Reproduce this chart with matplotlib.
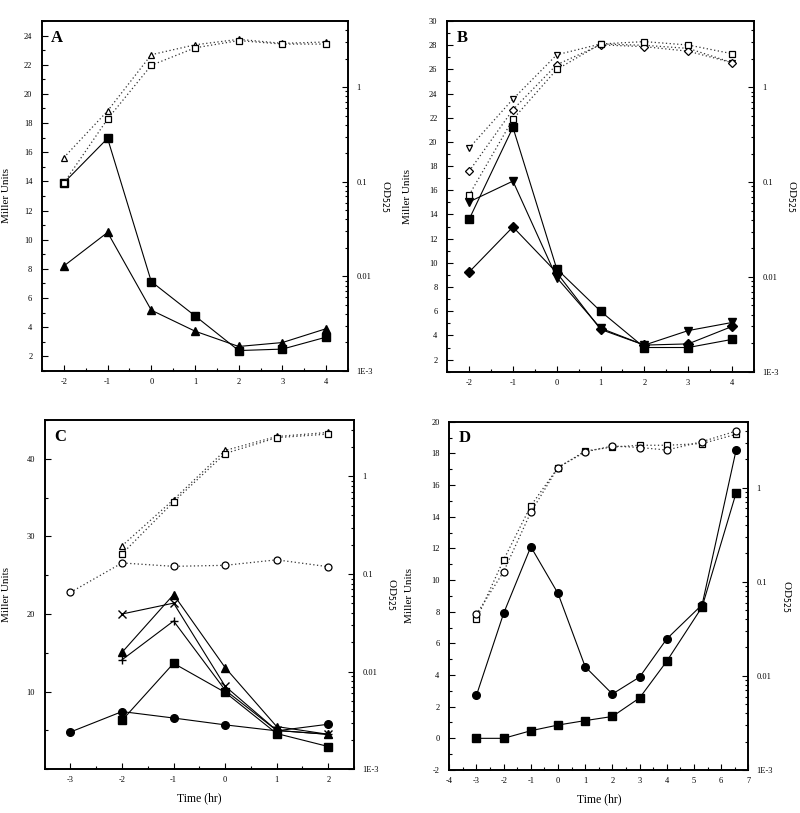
import numpy as np
from matplotlib import pyplot as plt
from matplotlib.ticker import FixedLocator, MultipleLocator, LogLocator, FuncFormatter, NullFormatter

plt.rcParams['font.family'] = ['Liberation Serif', 'DejaVu Serif']
plt.rcParams['axes.unicode_minus'] = False

# ---- panel A ----
a_t = [-2, -1, 0, 1, 2, 3, 4]
a_sq_mu = [13.9, 16.95, 7.13, 4.78, 2.4, 2.5, 3.32]
a_tri_mu = [8.2, 10.5, 5.17, 3.73, 2.68, 2.95, 3.9]
a_tri_od = [0.18, 0.56, 2.2, 2.8, 3.2, 2.9, 3.0]
a_sq_od = [0.097, 0.46, 1.7, 2.6, 3.1, 2.85, 2.85]

# ---- panel B ----
b_t = [-2, -1, 0, 1, 2, 3, 4]
b_sq_mu = [13.6, 21.2, 9.5, 6.0, 3.0, 3.0, 3.67]
b_vtri_mu = [15.04, 16.76, 8.78, 4.6, 3.2, 4.4, 5.07]
b_dia_mu = [9.24, 12.97, 9.19, 4.5, 3.2, 3.3, 4.74]
b_vtri_od = [0.228, 0.75, 2.2, 2.86, 2.77, 2.57, 1.82]
b_dia_od = [0.13, 0.58, 1.73, 2.8, 2.68, 2.4, 1.82]
b_sq_od = [0.073, 0.46, 1.54, 2.86, 3.03, 2.79, 2.26]

# ---- panel C ----
c_t = [-3, -2, -1, 0, 1, 2]
c_t2 = [-2, -1, 0, 1, 2]
c_tri_mu = [15.06, 22.5, 13.1, 5.5, 4.5]
c_x_mu = [20.0, 21.4, 10.7, 5.0, 4.5]
c_plus_mu = [14.1, 19.1, 10.2, 5.0, 4.5]
c_sq_mu = [6.3, 13.65, 9.9, 4.6, 2.93]
c_ci_mu = [4.8, 7.43, 6.6, 5.72, 4.95, 5.8]
c_tri_od = [0.195, 0.58, 1.85, 2.57, 2.83]
c_sq_od = [0.161, 0.55, 1.72, 2.5, 2.72]
c_ci_od = [0.065, 0.130, 0.12, 0.123, 0.14, 0.119]

# ---- panel D ----
d_t = [-3, -2, -1, 0, 1, 2, 3, 4, 5.3, 6.55]
d_ci_mu = [2.72, 7.9, 12.1, 9.15, 4.52, 2.8, 3.87, 6.28, 8.44, 18.2]
d_sq_mu = [0.0, 0.0, 0.48, 0.84, 1.12, 1.38, 2.55, 4.87, 8.3, 15.5]
d_ci_od = [0.045, 0.128, 0.547, 1.63, 2.39, 2.76, 2.66, 2.5, 3.07, 3.98]
d_sq_od = [0.040, 0.171, 0.64, 1.63, 2.44, 2.69, 2.81, 2.81, 2.93, 3.67]

fig = plt.figure(figsize=(8, 8.13), dpi=100)

SOLID = dict(color='black', linewidth=0.8, markersize=5.5)
DOT = dict(color='0.2', linewidth=0.9, linestyle=(0, (1, 2)), markersize=5,
           markerfacecolor='white', markeredgecolor='black', markeredgewidth=0.9)


def od_fmt(v, pos):
    labels = {1: '1', 0.1: '0.1', 0.01: '0.01', 0.001: '1E-3'}
    for k, s in labels.items():
        if abs(v - k) / k < 1e-6:
            return s
    return ''


def setup(rect, letter, xlim, ylim, ymaj, ymin, xmaj, xmin, od_top, lab_x, xlabel=False):
    ax = fig.add_axes(rect)
    ax.set_xlim(*xlim)
    ax.set_ylim(*ylim)
    ax.yaxis.set_major_locator(FixedLocator(ymaj))
    ax.yaxis.set_minor_locator(MultipleLocator(ymin))
    ax.xaxis.set_major_locator(FixedLocator(xmaj))
    ax.xaxis.set_minor_locator(MultipleLocator(xmin))
    ax.tick_params(which='both', direction='in', labelsize=6, width=0.8)
    ax.tick_params(which='major', length=4, pad=7)
    ax.tick_params(which='minor', length=2)
    ax.tick_params(axis='x', pad=5)
    for s in ax.spines.values():
        s.set_linewidth(1.2)
    ax.set_ylabel('Miller Units', fontsize=8)
    ax.yaxis.set_label_coords(lab_x, 0.5)
    if xlabel:
        ax.set_xlabel('Time (hr)', fontsize=8.5, labelpad=6)
    ax.text(0.03, 0.975, letter, transform=ax.transAxes, fontsize=12,
            fontweight='bold', va='top', ha='left')
    ax2 = ax.twinx()
    ax2.set_yscale('log')
    ax2.set_ylim(1e-3, od_top)
    ax2.yaxis.set_major_locator(FixedLocator([1e-3, 1e-2, 1e-1, 1]))
    ax2.yaxis.set_minor_locator(LogLocator(base=10, subs=np.arange(2, 10)))
    ax2.yaxis.set_major_formatter(FuncFormatter(od_fmt))
    ax2.yaxis.set_minor_formatter(NullFormatter())
    ax2.tick_params(which='both', direction='in', labelsize=6, width=0.8)
    ax2.tick_params(which='major', length=4, pad=6)
    ax2.tick_params(which='minor', length=2)
    ax2.set_ylabel('OD$_{525}$', fontsize=8, rotation=270, labelpad=14)
    for s in ax2.spines.values():
        s.set_linewidth(1.2)
    return ax, ax2


# A
ax, ax2 = setup([0.0525, 0.5437, 0.3825, 0.4305], 'A', (-2.5, 4.5), (1, 25),
                list(range(2, 25, 2)), 1, list(range(-2, 5)), 0.5, 5, -0.1)
ax.plot(a_t, a_sq_mu, marker='s', **SOLID)
ax.plot(a_t, a_tri_mu, marker='^', **SOLID)
ax2.plot(a_t, a_tri_od, marker='^', **DOT)
ax2.plot(a_t, a_sq_od, marker='s', **DOT)

# B
ax, ax2 = setup([0.559, 0.5428, 0.3834, 0.4314], 'B', (-2.5, 4.5), (1, 30),
                list(range(2, 31, 2)), 1, list(range(-2, 5)), 0.5, 5, -0.115)
ax.plot(b_t, b_sq_mu, marker='s', **SOLID)
ax.plot(b_t, b_vtri_mu, marker='v', **SOLID)
ax.plot(b_t, b_dia_mu, marker='D', **dict(SOLID, markersize=5))
ax2.plot(b_t, b_vtri_od, marker='v', **DOT)
ax2.plot(b_t, b_dia_od, marker='D', **dict(DOT, markersize=4.5))
ax2.plot(b_t, b_sq_od, marker='s', **DOT)

# C
ax, ax2 = setup([0.0559, 0.0538, 0.3866, 0.4297], 'C', (-3.5, 2.5), (0, 45),
                [10, 20, 30, 40], 5, list(range(-3, 3)), 0.5, 3.8, -0.11, xlabel=True)
ax.plot(c_t2, c_tri_mu, marker='^', **SOLID)
ax.plot(c_t2, c_x_mu, marker='x', **dict(SOLID, markersize=6))
ax.plot(c_t2, c_plus_mu, marker='+', **dict(SOLID, markersize=6))
ax.plot(c_t2, c_sq_mu, marker='s', **SOLID)
ax.plot(c_t, c_ci_mu, marker='o', **SOLID)
ax2.plot(c_t2, c_tri_od, marker='^', **DOT)
ax2.plot(c_t2, c_sq_od, marker='s', **DOT)
ax2.plot(c_t, c_ci_od, marker='o', **DOT)

# D
ax, ax2 = setup([0.5616, 0.0529, 0.3738, 0.4284], 'D', (-4, 7), (-2, 20),
                list(range(-2, 21, 2)), 1, list(range(-4, 8)), 0.5, 5, -0.118, xlabel=True)
ax.plot(d_t, d_ci_mu, marker='o', **SOLID)
ax.plot(d_t, d_sq_mu, marker='s', **SOLID)
ax2.plot(d_t, d_sq_od, marker='s', **DOT)
ax2.plot(d_t, d_ci_od, marker='o', **DOT)

fig.savefig('out.png', dpi=100)
